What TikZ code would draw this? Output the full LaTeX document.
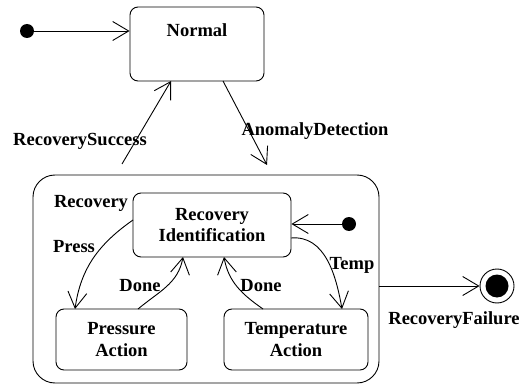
\documentclass[tikz,border=0pt]{standalone}
\usepackage{fontspec}
\setmainfont{Liberation Serif}
\usetikzlibrary{arrows.meta}
\begin{document}
\begin{tikzpicture}[x=1pt,y=-1pt,
  line width=0.9pt,
  every node/.style={font=\fontsize{18.5}{21.5}\selectfont\bfseries, inner sep=0pt},
  statebox/.style={draw, rounded corners=8pt, align=center},
  initdot/.style={circle, fill=black, minimum size=14pt},
  arr/.style={-{Straight Barb[length=16pt,width=19pt,line width=0.9pt]}}]
\useasboundingbox (0,0) rectangle (525,385);
% states
\node[statebox, minimum width=134pt, minimum height=74pt] (normal) at (197,44) {};
\node (normaltxt) at (197,30) {Normal};
\node[draw, rounded corners=22pt, minimum width=346pt, minimum height=208pt] (recovery) at (206,279) {};
\node (recoverytxt) at (91,203) {Recovery};
\node[statebox, minimum width=158pt, minimum height=64pt] (recid) at (212,225) {Recovery\\Identification};
\node[statebox, minimum width=131pt, minimum height=61pt] (press) at (121.5,339.5) {Pressure\\Action};
\node[statebox, minimum width=144pt, minimum height=61pt] (temp) at (296,339.5) {Temperature\\Action};
\node[initdot] (init1) at (27,31) {};
\node[initdot] (init2) at (349,224) {};
\node[circle, draw, minimum size=34pt] (final) at (497,286) {};
\node[circle, fill=black, minimum size=23pt] (finalin) at (497,286) {};
% coordinates
\coordinate (rsA) at (122,164);
\coordinate (rsB) at (171,81);
\coordinate (adA) at (223,81);
\coordinate (adB) at (267,165);
\coordinate (prA) at (133,220);
\coordinate (prB) at (75,309);
\coordinate (dlA) at (138,309);
\coordinate (dlB) at (183,257);
\coordinate (drA) at (263,309);
\coordinate (drB) at (224,257);
\coordinate (tpA) at (291,238);
\coordinate (tpB) at (342,309);
\coordinate (rfA) at (379,286);
% connectors
\draw[arr] (init1) -- (init1 -| normal.west);
\draw[arr] (rsA) -- (rsB);
\draw[arr] (adA) -- (adB);
\draw[arr] (init2) -- (init2 -| recid.east);
\draw[arr] (prA) to[out=-145, in=82] (prB);
\draw[arr] (dlA) to[out=40, in=-100] (dlB);
\draw[arr] (drA) to[out=145, in=-80] (drB);
\draw[arr] (tpA) to[out=5, in=100] (tpB);
\draw[arr] (rfA) -- (final.west);
% labels
\node (lrs) at (80,141) {RecoverySuccess};
\node (lad) at (315,131) {AnomalyDetection};
\node (lpr) at (74,247) {Press};
\node (ldl) at (140,286) {Done};
\node (ldr) at (261,286) {Done};
\node (ltp) at (352,265) {Temp};
\node (lrf) at (454,320) {RecoveryFailure};
\end{tikzpicture}
\end{document}
